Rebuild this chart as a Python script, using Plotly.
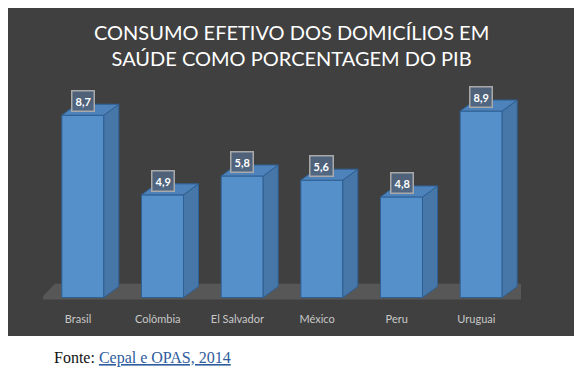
import plotly.graph_objects as go

categories = ["Brasil", "Colômbia", "El Salvador", "México", "Peru", "Uruguai"]
values = [8.7, 4.9, 5.8, 5.6, 4.8, 8.9]
value_labels = ["8,7", "4,9", "5,8", "5,6", "4,8", "8,9"]

title_lines = ["CONSUMO EFETIVO DOS DOMICÍLIOS EM", "SAÚDE COMO PORCENTAGEM DO PIB"]
source_prefix = "Fonte: "
source_text = "Cepal e OPAS, 2014"

OFF = 8  # page body margin
W, H = 585, 375
# plot area in page pixels
PL, PR, PT, PB = 43, 521, 88, 308
ML, MT = PL - OFF, PT - OFF
MR, MB = W - (PR - OFF), H - (PB - OFF)
YMIN, YMAX = -0.5, 10.0
plot_w = PR - PL
plot_h = PB - PT
px_x = plot_w / len(categories)
px_y = plot_h / (YMAX - YMIN)

bar_w = 42 / px_x
dx = 15 / px_x
dy = 11 / px_y

xs = list(range(len(categories)))
n = len(categories)

fig = go.Figure()

# floor (decoration)
fx0, fx1 = -0.54, n - 1 + 0.61
fy = -0.1
fig.add_shape(type="path",
              path=f"M {fx0} {fy} L {fx1} {fy} L {fx1+dx} {fy+dy*1.45} L {fx0+dx} {fy+dy*1.45} Z",
              xref="x", yref="y", fillcolor="#575757", line=dict(width=0), layer="below")

sx, sy, tx, ty = [], [], [], []
for x, v in zip(xs, values):
    r = x + bar_w / 2
    l = x - bar_w / 2
    sx += [r, r + dx, r + dx, r, r, None]
    sy += [0, dy, v + dy, v, 0, None]
    tx += [l, r, r + dx, l + dx, l, None]
    ty += [v, v, v + dy, v + dy, v, None]

fig.add_trace(go.Bar(x=xs, y=values, width=bar_w,
                     marker=dict(color="#5690cb", line=dict(color="#2f6094", width=1)),
                     hoverinfo="skip"))
fig.add_trace(go.Scatter(x=sx, y=sy, mode="lines", fill="toself", fillcolor="#4677a8",
                         line=dict(color="#2f6094", width=1), hoverinfo="skip"))
fig.add_trace(go.Scatter(x=tx, y=ty, mode="lines", fill="toself", fillcolor="#4d83ba",
                         line=dict(color="#2f6094", width=1), hoverinfo="skip"))

for x, v, t in zip(xs, values, value_labels):
    fig.add_annotation(x=x, y=v, text=f"<b>{t}</b>", showarrow=False, yshift=14,
                       font=dict(family="Lato, sans-serif", size=11, color="white"),
                       bgcolor="rgba(80,100,125,0.95)", bordercolor="#a9a9a9",
                       borderwidth=1.5, borderpad=3)

def px_to_paper_x(p):
    return (p - PL) / plot_w
def px_to_paper_y(p):
    return (PB - p) / plot_h

fig.add_shape(type="rect", xref="paper", yref="paper",
              x0=px_to_paper_x(8), x1=px_to_paper_x(574),
              y0=px_to_paper_y(336), y1=px_to_paper_y(5),
              fillcolor="#404040", line=dict(width=0), layer="below")

fig.add_annotation(xref="paper", yref="paper", x=px_to_paper_x(291), y=px_to_paper_y(45),
                   text="<br>".join(title_lines), showarrow=False,
                   font=dict(family="Lato, sans-serif", size=20, color="white"),
                   align="center", yanchor="middle")

fig.add_annotation(xref="paper", yref="paper", x=px_to_paper_x(52), y=px_to_paper_y(358),
                   xanchor="left", yanchor="middle", showarrow=False,
                   text=f"{source_prefix}<span style='color:#2e5c9e'><u>{source_text}</u></span>",
                   font=dict(family="Liberation Serif, serif", size=16, color="#111111"))

fig.update_layout(
    width=W, height=H,
    margin=dict(l=ML, r=MR, t=MT, b=MB),
    paper_bgcolor="white", plot_bgcolor="rgba(0,0,0,0)",
    showlegend=False,
    xaxis=dict(range=[-0.5, n - 0.5], tickmode="array",
               tickvals=[x - 0.06 for x in xs], ticktext=categories,
               showgrid=False, zeroline=False, showline=False, ticks="",
               ticklabelstandoff=3,
               tickfont=dict(family="Lato, sans-serif", size=11, color="#c8c8c8"),
               fixedrange=True),
    yaxis=dict(range=[YMIN, YMAX], visible=False, fixedrange=True),
)

fig.write_html("out.html")
